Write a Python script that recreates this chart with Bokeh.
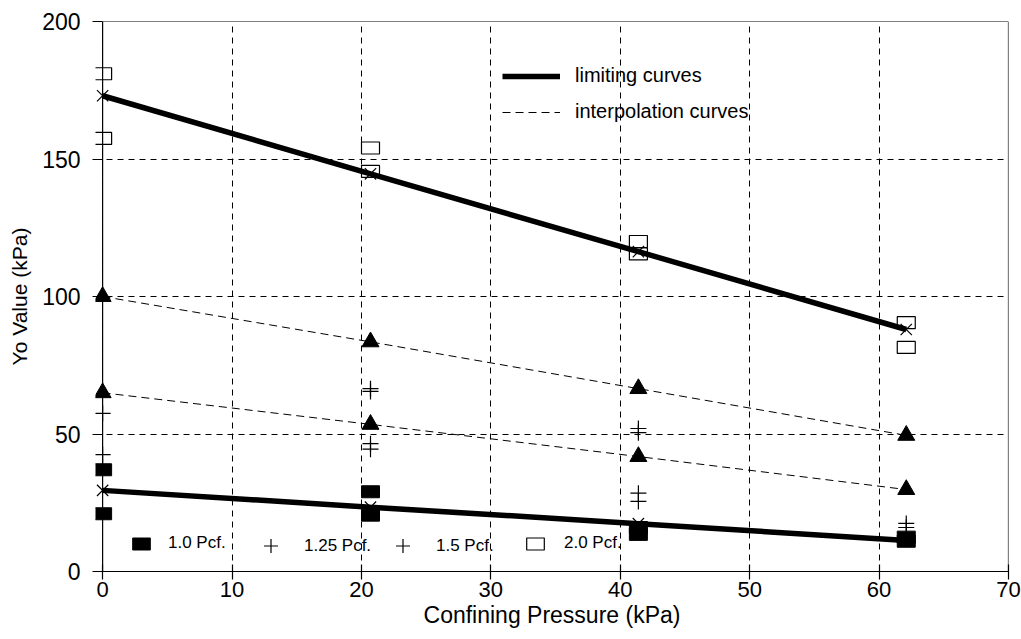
from bokeh.plotting import figure
from bokeh.models import Legend, LegendItem, FixedTicker, Range1d, Span
from bokeh.embed import file_html
from bokeh.resources import INLINE

# Confining pressures at which the tests were run (kPa)
pressure = [0, 20.7, 41.4, 62.1]

# Limiting and interpolation curves (Yo, kPa) at each pressure
upper_limit = [173.0, 144.6, 116.3, 88.0]
lower_limit = [29.5, 23.4, 17.4, 11.3]
upper_interp = [100.0, 83.5, 66.5, 49.5]
lower_interp = [65.0, 53.5, 41.8, 29.8]

# Measured Yo values by foam density
pcf10_x = [0, 0, 20.7, 20.7, 41.4, 41.4, 62.1, 62.1]
pcf10_y = [37.0, 21.0, 29.0, 20.5, 16.0, 13.5, 12.5, 11.0]
pcf125_x = [0, 20.7, 20.7, 41.4, 41.4, 62.1, 62.1]
pcf125_y = [42.5, 46.5, 44.5, 28.5, 25.5, 17.5, 16.0]
pcf15_x = [0, 20.7, 20.7, 41.4, 41.4]
pcf15_y = [57.5, 66.5, 65.5, 52.0, 50.5]
pcf20_x = [0, 0, 20.7, 20.7, 41.4, 41.4, 62.1, 62.1]
pcf20_y = [181.0, 157.5, 154.0, 145.5, 120.0, 115.5, 90.5, 81.5]

x_ticks = [0, 10, 20, 30, 40, 50, 60, 70]
y_ticks = [0, 50, 100, 150, 200]

FONT = "Liberation Sans"

# a little room left of zero so the markers sitting on the y axis are drawn whole
p = figure(width=1021, height=639, x_range=Range1d(-0.55, 70), y_range=Range1d(0, 200),
           output_backend="svg", toolbar_location=None, title=None,
           min_border_left=95, min_border_right=13, min_border_top=21, min_border_bottom=68)
p.background_fill_color = "white"
p.border_fill_color = "white"
p.outline_line_color = None

# axes
p.xaxis.ticker = FixedTicker(ticks=x_ticks)
p.yaxis.ticker = FixedTicker(ticks=y_ticks)
for ax in (p.xaxis[0], p.yaxis[0]):
    ax.axis_line_color = "black"
    ax.axis_line_width = 1.2
    ax.major_tick_line_color = "black"
    ax.major_tick_line_width = 1.2
    ax.minor_tick_line_color = None
    ax.major_label_text_color = "black"
    ax.major_label_text_font = FONT
    ax.axis_label_text_font = FONT
    ax.axis_label_text_font_style = "normal"
    ax.axis_label_text_color = "black"

p.xaxis.axis_label = "Confining Pressure (kPa)"
p.xaxis.major_tick_in = 7
p.xaxis.major_tick_out = 8
p.xaxis.major_label_standoff = 2
p.xaxis.major_label_text_font_size = "22px"
p.xaxis.axis_label_text_font_size = "23px"
p.xaxis.axis_label_standoff = 2

# the y axis line itself is drawn at x = 0 below; ticks reach in to it
p.yaxis.axis_label = "Yo Value (kPa)"
p.yaxis.axis_line_color = None
p.yaxis.major_tick_in = 7
p.yaxis.major_tick_out = 3
p.yaxis.major_label_standoff = 12
p.yaxis.major_label_text_font_size = "23px"
p.yaxis.axis_label_text_font_size = "21px"
p.yaxis.axis_label_standoff = 8

# dashed grid
for g in (p.xgrid[0], p.ygrid[0]):
    g.grid_line_color = "black"
    g.grid_line_dash = "6 5"
    g.grid_line_width = 1

# y axis line at zero, plus top and right border of the plotting area
p.add_layout(Span(location=0, dimension="height", line_color="black", line_width=1.2))
p.add_layout(Span(location=200, dimension="width", line_color="black", line_width=1.2))
p.add_layout(Span(location=70, dimension="height", line_color="black", line_width=1.2))

# curves
r_upper = p.line(pressure, upper_limit, line_color="black", line_width=5.5)
p.line(pressure, lower_limit, line_color="black", line_width=5.5)
r_interp = p.line(pressure, upper_interp, line_color="black", line_width=1, line_dash="8 5")
p.line(pressure, lower_interp, line_color="black", line_width=1, line_dash="8 5")

# interpolated points and limiting points
p.scatter(pressure, upper_interp, marker="triangle", size=17, fill_color="black", line_color="black")
p.scatter(pressure, lower_interp, marker="triangle", size=17, fill_color="black", line_color="black")
p.scatter(pressure, upper_limit, marker="x", size=16, line_color="black", line_width=1.2)
p.scatter(pressure, lower_limit, marker="x", size=16, line_color="black", line_width=1.2)

# measured values
r10 = p.rect(pcf10_x, pcf10_y, width=18, height=12, width_units="screen", height_units="screen",
             fill_color="black", line_color="black")
r125 = p.scatter(pcf125_x, pcf125_y, marker="cross", size=16, line_color="black", line_width=1.2)
r15 = p.scatter(pcf15_x, pcf15_y, marker="cross", size=16, line_color="black", line_width=1.2)
r20 = p.rect(pcf20_x, pcf20_y, width=18, height=12, width_units="screen", height_units="screen",
             fill_alpha=0, line_color="black", line_width=1.2)


def plain_legend(items, location, **kw):
    leg = Legend(items=items, location=location, padding=0, margin=0,
                 border_line_alpha=0, background_fill_alpha=0,
                 label_text_font=FONT, label_text_color="black", **kw)
    p.add_layout(leg)
    return leg


plain_legend([LegendItem(label="limiting curves", renderers=[r_upper]),
              LegendItem(label="interpolation curves", renderers=[r_interp])],
             (407, 448), glyph_width=58, glyph_height=20, label_height=20, spacing=13,
             label_standoff=15, label_text_font_size="20px")

plain_legend([LegendItem(label="1.0 Pcf.", renderers=[r10])], (35, 18),
             glyph_width=22, glyph_height=15, label_height=15, label_standoff=16,
             label_text_font_size="17px")
plain_legend([LegendItem(label="1.25 Pcf.", renderers=[r125])], (158, 8),
             glyph_width=35, glyph_height=35, label_height=35, label_standoff=16,
             label_text_font_size="17px")
plain_legend([LegendItem(label="1.5 Pcf.", renderers=[r15])], (290, 8),
             glyph_width=35, glyph_height=35, label_height=35, label_standoff=16,
             label_text_font_size="17px")
plain_legend([LegendItem(label="2.0 Pcf.", renderers=[r20])], (429, 18),
             glyph_width=22, glyph_height=15, label_height=15, label_standoff=18,
             label_text_font_size="17px")

open("out.html", "w").write(file_html(p, INLINE))
